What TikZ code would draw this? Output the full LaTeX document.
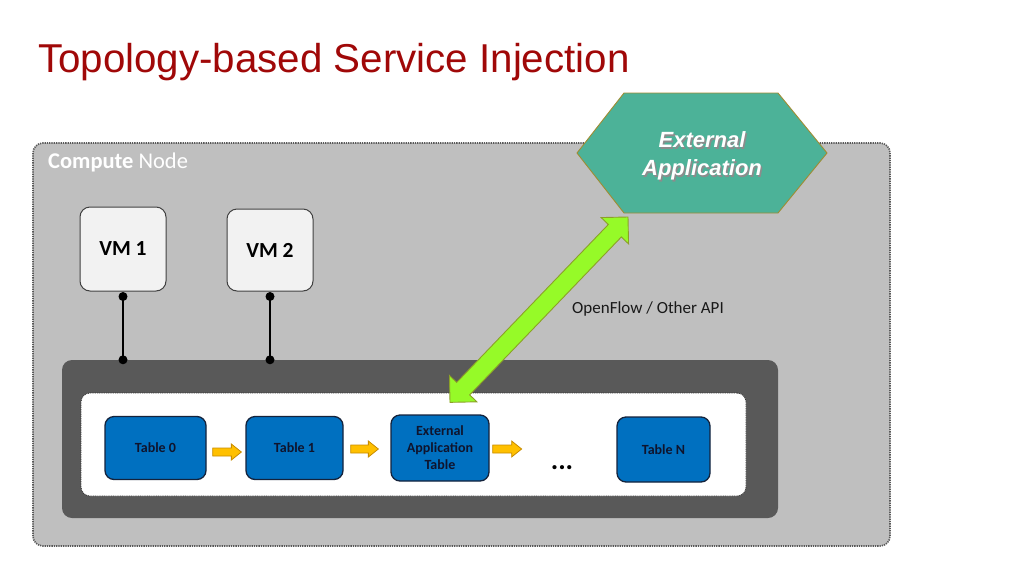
\documentclass[tikz,border=0pt]{standalone}
\usepackage{fontspec}
\setmainfont{Carlito}
\newfontfamily\arialf{Liberation Sans}
\usetikzlibrary{calc}
\definecolor{titlered}{RGB}{160,8,8}
\definecolor{outergray}{RGB}{191,191,191}
\definecolor{bridgegray}{RGB}{89,89,89}
\definecolor{tealfill}{RGB}{76,178,152}
\definecolor{olive}{RGB}{160,140,50}
\definecolor{limefill}{RGB}{150,250,40}
\definecolor{limeedge}{RGB}{140,160,40}
\definecolor{tblblue}{RGB}{0,112,192}
\definecolor{tbledge}{RGB}{20,35,60}
\definecolor{tbltext}{RGB}{15,20,45}
\definecolor{yelfill}{RGB}{255,192,0}
\definecolor{yeledge}{RGB}{200,140,0}
\definecolor{vmfill}{RGB}{242,242,242}
\newcommand\fatarrow[2]{\draw[yarrow] ($#1+(0,-4)$) -- ($#2+(-10,-4)$) -- ($#2+(-10,-8)$) -- #2 -- ($#2+(-10,8)$) -- ($#2+(-10,4)$) -- ($#1+(0,4)$) -- cycle;}
\begin{document}
\begin{tikzpicture}[x=1pt,y=-1pt,
  tbl/.style={draw=tbledge, line width=1.3pt, fill=tblblue, rounded corners=9pt, text=tbltext,
    font=\bfseries\fontsize{14}{17}\selectfont, align=center, inner sep=0pt},
  vmbox/.style={draw=black!75, line width=1pt, fill=vmfill, rounded corners=10pt,
    minimum width=86pt, font=\bfseries\fontsize{21.5}{25}\selectfont, inner sep=0pt},
  yarrow/.style={fill=yelfill, draw=yeledge, line width=0.8pt, line join=miter},
  dotc/.style={circle, fill=black, inner sep=0pt, minimum size=9pt},
  wire/.style={line width=1.8pt, black}]
\useasboundingbox (0,0) rectangle (1024,576);
\fill[white] (0,0) rectangle (1024,576);

% title
\node[anchor=base west, inner sep=0pt, text=titlered, font=\arialf\fontsize{40.3}{48}\selectfont] (title) at (38,72) {Topology-based Service Injection};

% compute node
\draw[fill=outergray, draw=black!65, line width=1.6pt, dash pattern=on 1.3pt off 1pt, rounded corners=10pt] (33,143) rectangle (890,546);
\node[anchor=base west, inner sep=0pt, text=white, font=\fontsize{22.5}{26}\selectfont] (cnlabel) at (48,168) {\textbf{Compute} Node};

% VMs
\node[vmbox, minimum height=84pt] (vm1) at (123,249) {VM 1};
\node[vmbox, minimum height=82pt] (vm2) at (270,250) {VM 2};

% bridge
\node[fill=bridgegray, rounded corners=10pt, minimum width=716pt, minimum height=158pt, inner sep=0pt] (bridge) at (420,439) {};
\node[fill=white, draw=black!80, line width=0.8pt, dash pattern=on 1pt off 0.8pt, rounded corners=9pt, minimum width=665pt, minimum height=103pt, inner sep=0pt] (pipeline) at (413.5,444.5) {};

% wires
\coordinate (w1a) at ($(vm1.south)+(0,5)$);
\coordinate (w2a) at ($(vm2.south)+(0,5)$);
\coordinate (w1b) at (vm1.south |- bridge.north);
\coordinate (w2b) at (vm2.south |- bridge.north);
\draw[wire] (w1a) -- (w1b);
\draw[wire] (w2a) -- (w2b);
\node[dotc] at (w1a) {};
\node[dotc] at (w1b) {};
\node[dotc] at (w2a) {};
\node[dotc] at (w2b) {};

% tables
\node[tbl, minimum width=101pt, minimum height=63pt] (t0) at (155.5,448) {Table 0};
\node[tbl, minimum width=97pt, minimum height=63pt] (t1) at (294.5,448) {Table 1};
\node[tbl, minimum width=98pt, minimum height=66pt] (tx) at (440,448) {External\\Application\\Table};
\node[tbl, minimum width=93pt, minimum height=65pt] (tn) at (663.5,449.5) {Table N};
\node[font=\bfseries\fontsize{28}{30}\selectfont, text=black, inner sep=0pt] (dots) at (562,468) {...};

% yellow arrows
\coordinate (a1s) at ($(t0.east)+(6,4)$);
\coordinate (a1e) at ($(t1.west)+(-4,4)$);
\coordinate (a2s) at ($(t1.east)+(7,1)$);
\coordinate (a2e) at ($(tx.west)+(-12,1)$);
\coordinate (a3s) at ($(tx.east)+(3,1)$);
\coordinate (a3e) at ($(tx.east)+(32,1)$);
\fatarrow{(a1s)}{(a1e)}
\fatarrow{(a2s)}{(a2e)}
\fatarrow{(a3s)}{(a3e)}

% external application hexagon
\draw[fill=tealfill, draw=olive, line width=0.9pt] (577,153) -- (624,93) -- (778,93) -- (827,153) -- (778,213) -- (624,213) -- cycle;
\coordinate (hexbl) at (624,213);
\node[align=center, text=black!45, font=\arialf\bfseries\itshape\fontsize{22}{28}\selectfont] at (703.5,157.5) {External\\Application};
\node[align=center, text=white, font=\arialf\bfseries\itshape\fontsize{22}{28}\selectfont] (hex) at (702,156) {External\\Application};

% green double arrow
\coordinate (gA) at ($(tx.north)+(10,-12)$);
\coordinate (gB) at ($(hexbl)+(4,4)$);
\coordinate (p1) at ($(gA)!19pt!(gB)$);
\coordinate (p2) at ($(gB)!19pt!(gA)$);
\draw[fill=limefill, draw=limeedge, line width=0.9pt, line join=miter]
  (gA) -- ($(p1)!19pt!90:(gB)$) -- ($(p1)!9pt!90:(gB)$) -- ($(p2)!9pt!-90:(gA)$) -- ($(p2)!19pt!-90:(gA)$)
  -- (gB) -- ($(p2)!19pt!90:(gA)$) -- ($(p2)!9pt!90:(gA)$) -- ($(p1)!9pt!-90:(gB)$) -- ($(p1)!19pt!-90:(gB)$) -- cycle;
\node[anchor=base west, inner sep=0pt, font=\fontsize{17}{20}\selectfont, text=black!90] (api) at (572,313) {OpenFlow / Other API};
\end{tikzpicture}
\end{document}
